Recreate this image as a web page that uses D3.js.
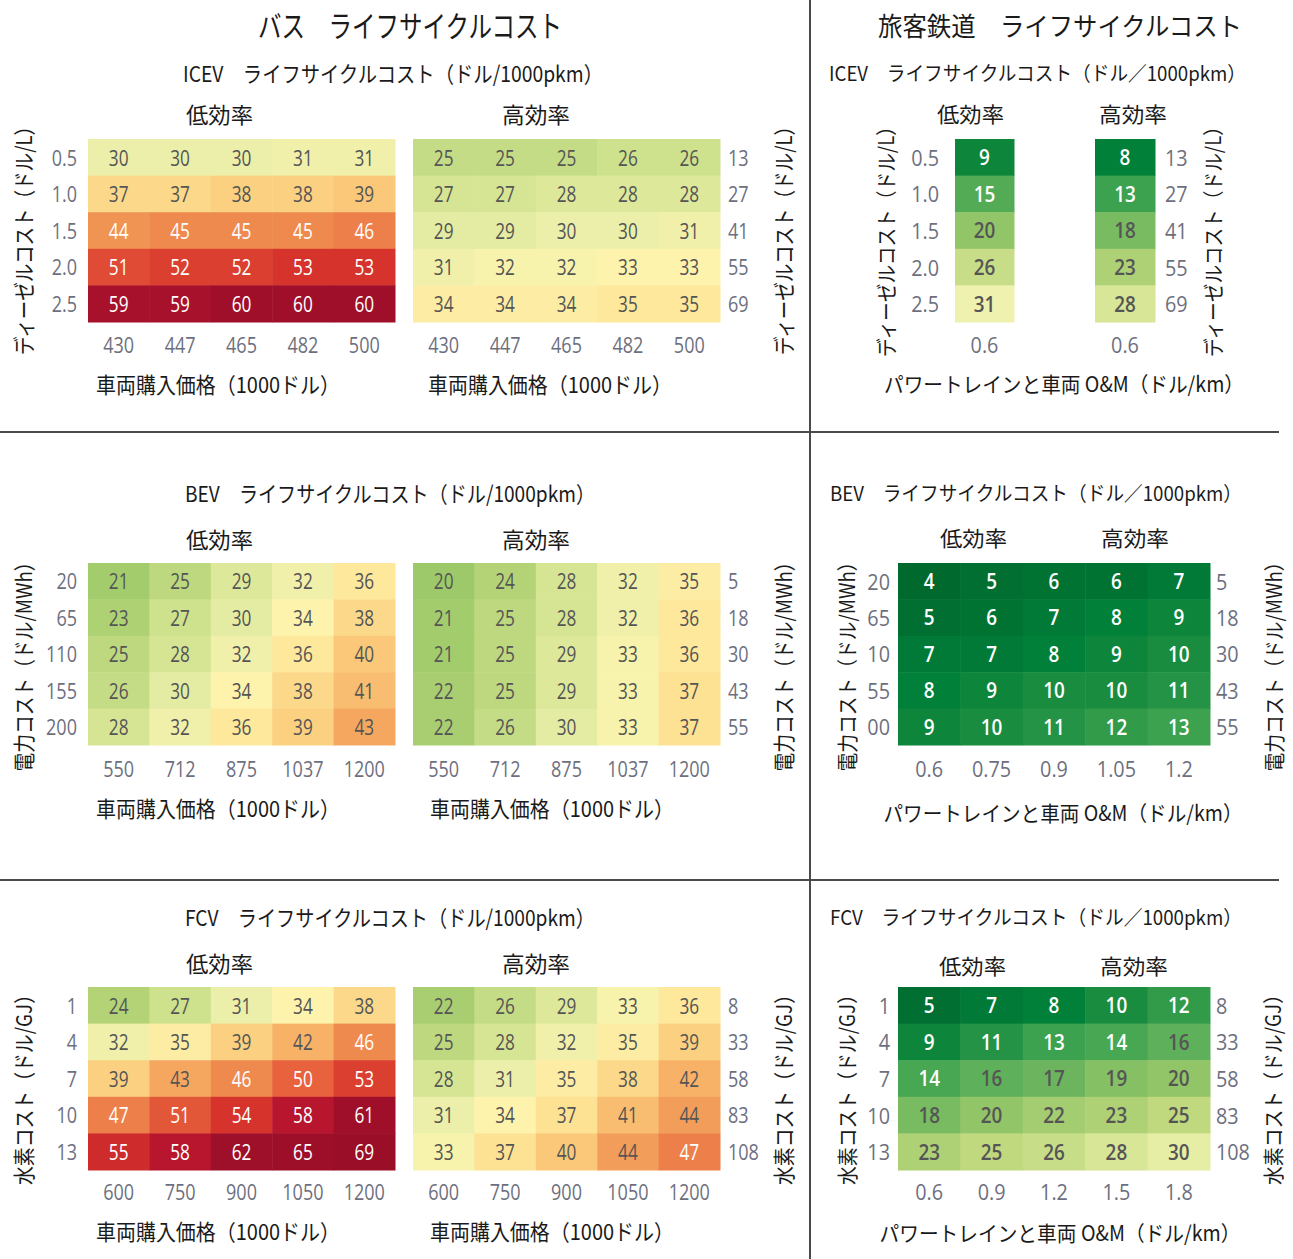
<!DOCTYPE html>
<html>
<head>
<meta charset="utf-8">
<script src="https://cdn.jsdelivr.net/npm/d3@7"></script>
<style>
  html, body { margin: 0; padding: 0; background: #fff; }
  svg { display: block; }
</style>
</head>
<body>
<svg id="chart" width="1293" height="1259"></svg>
<script>
// ---- data ----------------------------------------------------------------
// Bus ICEV: vehicle price (1000 USD) x diesel cost (USD/L)
const busIcevPrice = ["430", "447", "465", "482", "500"];
const dieselLow = ["0.5", "1.0", "1.5", "2.0", "2.5"];
const dieselHigh = ["13", "27", "41", "55", "69"];
const busIcevLow = [
  [30, 30, 30, 31, 31],
  [37, 37, 38, 38, 39],
  [44, 45, 45, 45, 46],
  [51, 52, 52, 53, 53],
  [59, 59, 60, 60, 60]
];
const busIcevHigh = [
  [25, 25, 25, 26, 26],
  [27, 27, 28, 28, 28],
  [29, 29, 30, 30, 31],
  [31, 32, 32, 33, 33],
  [34, 34, 34, 35, 35]
];

// Bus BEV: vehicle price x electricity cost (USD/MWh)
const busBevPrice = ["550", "712", "875", "1037", "1200"];
const powerLow = ["20", "65", "110", "155", "200"];
const powerHigh = ["5", "18", "30", "43", "55"];
const busBevLow = [
  [21, 25, 29, 32, 36],
  [23, 27, 30, 34, 38],
  [25, 28, 32, 36, 40],
  [26, 30, 34, 38, 41],
  [28, 32, 36, 39, 43]
];
const busBevHigh = [
  [20, 24, 28, 32, 35],
  [21, 25, 28, 32, 36],
  [21, 25, 29, 33, 36],
  [22, 25, 29, 33, 37],
  [22, 26, 30, 33, 37]
];

// Bus FCV: vehicle price x hydrogen cost (USD/GJ)
const busFcvPrice = ["600", "750", "900", "1050", "1200"];
const h2Low = ["1", "4", "7", "10", "13"];
const h2High = ["8", "33", "58", "83", "108"];
const busFcvLow = [
  [24, 27, 31, 34, 38],
  [32, 35, 39, 42, 46],
  [39, 43, 46, 50, 53],
  [47, 51, 54, 58, 61],
  [55, 58, 62, 65, 69]
];
const busFcvHigh = [
  [22, 26, 29, 33, 36],
  [25, 28, 32, 35, 39],
  [28, 31, 35, 38, 42],
  [31, 34, 37, 41, 44],
  [33, 37, 40, 44, 47]
];

// Passenger rail: powertrain & vehicle O&M (USD/km)
const railIcevOm = ["0.6"];
const railIcevLow = [[9], [15], [20], [26], [31]];
const railIcevHigh = [[8], [13], [18], [23], [28]];
const railBevOm = ["0.6", "0.75", "0.9", "1.05", "1.2"];
const railBev = [
  [4, 5, 6, 6, 7],
  [5, 6, 7, 8, 9],
  [7, 7, 8, 9, 10],
  [8, 9, 10, 10, 11],
  [9, 10, 11, 12, 13]
];
const railFcvOm = ["0.6", "0.9", "1.2", "1.5", "1.8"];
const railFcv = [
  [5, 7, 8, 10, 12],
  [9, 11, 13, 14, 16],
  [14, 16, 17, 19, 20],
  [18, 20, 22, 23, 25],
  [23, 25, 26, 28, 30]
];

// ---- colour scales -------------------------------------------------------
const busColor = d3.scaleLinear()
  .domain([20, 24, 28, 31, 34, 37, 40, 43, 46, 50, 54, 58, 61, 69])
  .range(["#9dc96a", "#b4d377", "#d6e594", "#ebefaa", "#fdf3ad", "#fde293",
          "#fac878", "#f5a760", "#ee8a4e", "#e8633d", "#d5332b", "#b8162e",
          "#9f0f2a", "#9a0e27"])
  .interpolate(d3.interpolateRgb)
  .clamp(true);

const railColor = d3.scaleLinear()
  .domain([4, 6, 8, 10, 13, 16, 20, 25, 31])
  .range(["#006a2e", "#007333", "#008038", "#1a8c40", "#3ca24f", "#5fb05a",
          "#92c568", "#c0d97f", "#eef2ae"])
  .interpolate(d3.interpolateRgb)
  .clamp(true);

const svg = d3.select("#chart");
const JP = "'Noto Sans CJK JP', 'Noto Sans', sans-serif";
const NUM = "'Open Sans', 'Noto Sans', sans-serif";
const TICK = "#6d6f7e";

// ---- frame lines ---------------------------------------------------------
const frame = svg.append("g").attr("stroke", "#4a4a4a").attr("stroke-width", 2);
frame.append("line").attr("x1", 810).attr("x2", 810).attr("y1", 0).attr("y2", 1259);
frame.append("line").attr("x1", 0).attr("x2", 1279).attr("y1", 432).attr("y2", 432);
frame.append("line").attr("x1", 0).attr("x2", 1279).attr("y1", 880).attr("y2", 880);

// ---- text helpers --------------------------------------------------------
function label(txt, x, y, size, len, opts = {}) {
  const t = svg.append("text")
    .attr("x", x).attr("y", y)
    .attr("text-anchor", "middle")
    .attr("dominant-baseline", "central")
    .attr("font-family", JP)
    .attr("font-size", size)
    .attr("fill", opts.fill || "#1a1a1a")
    .text(txt);
  if (len) t.attr("textLength", len).attr("lengthAdjust", "spacingAndGlyphs");
  if (opts.rotate) t.attr("transform", `rotate(-90,${x},${y})`);
  return t;
}

// horizontally squeeze a text element around its own anchor point
function squeeze(sel, sx) {
  sel.each(function () {
    const t = d3.select(this);
    const x0 = +t.attr("x") || 0;
    const y0 = +t.attr("y") || 0;
    t.attr("x", 0).attr("y", 0)
      .attr("transform", `translate(${x0},${y0}) scale(${sx},1)`);
  });
}

// ---- heatmap -------------------------------------------------------------
function heatmap(cfg) {
  const g = svg.append("g");
  const x = d3.scaleBand().domain(cfg.cols).range(cfg.xr).padding(0);
  const rowKeys = cfg.values.map((_, i) => i);
  const y = d3.scaleBand().domain(rowKeys).range(cfg.yr).padding(0);

  const cells = [];
  cfg.values.forEach((row, r) => row.forEach((v, c) => cells.push({ r, c, v })));

  g.selectAll("rect").data(cells).join("rect")
    .attr("x", d => x(cfg.cols[d.c]))
    .attr("y", d => y(d.r))
    .attr("width", x.bandwidth() + 0.5)
    .attr("height", y.bandwidth() + 0.5)
    .attr("fill", d => cfg.color(d.v + (cfg.shift || 0)));

  const vals = g.selectAll("text.val").data(cells).join("text")
    .attr("class", "val")
    .attr("x", d => x(cfg.cols[d.c]) + x.bandwidth() / 2)
    .attr("y", d => y(d.r) + y.bandwidth() / 2)
    .attr("text-anchor", "middle")
    .attr("dominant-baseline", "central")
    .attr("font-family", NUM)
    .attr("font-size", cfg.valSize || 21)
    .attr("font-weight", cfg.valWeight || 400)
    .attr("fill", d => cfg.light(d.v) ? "#ffffff" : "#555555")
    .text(d => d.v);
  squeeze(vals, cfg.valScale || 0.82);

  const tickScale = cfg.tickScale || 0.82;
  // axes built from band scales with category tick labels
  const styleAxis = sel => {
    sel.select(".domain").remove();
    sel.selectAll(".tick line").remove();
    sel.selectAll("text")
      .attr("font-family", NUM)
      .attr("font-size", cfg.tickSize || 22)
      .attr("fill", TICK);
  };

  if (cfg.leftTicks) {
    const yl = d3.scaleBand().domain(cfg.leftTicks).range(cfg.yr);
    const ga = svg.append("g")
      .attr("transform", `translate(${cfg.xr[0]},0)`)
      .call(d3.axisLeft(yl).tickSize(0).tickPadding(cfg.leftPad))
      .call(styleAxis);
    ga.selectAll("text").attr("dy", null).attr("dominant-baseline", "central");
    squeeze(ga.selectAll("text"), tickScale);
    if (cfg.leftClip) {
      const id = "clip" + Math.round(cfg.xr[0]) + "_" + Math.round(cfg.yr[0]);
      svg.append("clipPath").attr("id", id)
        .append("rect")
        .attr("x", cfg.leftClip - cfg.xr[0]).attr("y", cfg.yr[0] - 20)
        .attr("width", cfg.xr[0] - cfg.leftClip).attr("height", cfg.yr[1] - cfg.yr[0] + 40);
      ga.attr("clip-path", `url(#${id})`);
    }
  }
  if (cfg.rightTicks) {
    const yr = d3.scaleBand().domain(cfg.rightTicks).range(cfg.yr);
    const gr = svg.append("g")
      .attr("transform", `translate(${cfg.xr[1]},0)`)
      .call(d3.axisRight(yr).tickSize(0).tickPadding(cfg.rightPad))
      .call(styleAxis);
    gr.selectAll("text").attr("dy", null).attr("dominant-baseline", "central");
    squeeze(gr.selectAll("text"), tickScale);
  }
  const gb = svg.append("g")
    .attr("transform", `translate(0,${cfg.yr[1]})`)
    .call(d3.axisBottom(x).tickSize(0))
    .call(styleAxis);
  gb.selectAll("text")
    .attr("y", cfg.xTickY - cfg.yr[1])
    .attr("dy", null)
    .attr("dominant-baseline", "central");
  squeeze(gb.selectAll("text"), tickScale);
}

const busLight = shift => v => v + shift >= 44.5;
const railLight = v => v <= 15;

// ==== BUS =================================================================
label("バス　ライフサイクルコスト", 410, 24, 30, 304);

// ICEV
label("ICEV　ライフサイクルコスト（ドル/1000pkm）", 393, 72, 22, 420);
label("低効率", 219.5, 113, 22, 67);
label("高効率", 536, 113, 22, 68);
heatmap({ cols: busIcevPrice, values: busIcevLow, xr: [88, 395], yr: [139, 322],
  color: busColor, shift: 1, light: busLight(1),
  leftTicks: dieselLow, leftPad: 11, xTickY: 345 });
heatmap({ cols: busIcevPrice, values: busIcevHigh, xr: [413, 720], yr: [139, 322],
  color: busColor, shift: 1, light: busLight(1),
  rightTicks: dieselHigh, rightPad: 8, xTickY: 345 });
label("車両購入価格（1000ドル）", 218, 383, 22, 244);
label("車両購入価格（1000ドル）", 550, 383, 22, 244);
label("ディーゼルコスト（ドル/L）", 22, 236, 22, 238, { rotate: true });
label("ディーゼルコスト（ドル/L）", 782, 236, 22, 238, { rotate: true });

// BEV
label("BEV　ライフサイクルコスト（ドル/1000pkm）", 390, 492, 22, 410);
label("低効率", 219.5, 538, 22, 67);
label("高効率", 536, 538, 22, 68);
heatmap({ cols: busBevPrice, values: busBevLow, xr: [88, 395], yr: [563, 745],
  color: busColor, light: busLight(0),
  leftTicks: powerLow, leftPad: 11, xTickY: 769 });
heatmap({ cols: busBevPrice, values: busBevHigh, xr: [413, 720], yr: [563, 745],
  color: busColor, light: busLight(0),
  rightTicks: powerHigh, rightPad: 8, xTickY: 769 });
label("車両購入価格（1000ドル）", 218, 807, 22, 244);
label("車両購入価格（1000ドル）", 552, 807, 22, 244);
label("電力コスト（ドル/MWh）", 22, 662, 22, 219, { rotate: true });
label("電力コスト（ドル/MWh）", 782, 662, 22, 219, { rotate: true });

// FCV
label("FCV　ライフサイクルコスト（ドル/1000pkm）", 390, 916, 22, 410);
label("低効率", 219.5, 962, 22, 67);
label("高効率", 536, 962, 22, 68);
heatmap({ cols: busFcvPrice, values: busFcvLow, xr: [88, 395], yr: [987, 1170],
  color: busColor, light: busLight(0),
  leftTicks: h2Low, leftPad: 11, xTickY: 1192 });
heatmap({ cols: busFcvPrice, values: busFcvHigh, xr: [413, 720], yr: [987, 1170],
  color: busColor, light: busLight(0),
  rightTicks: h2High, rightPad: 8, xTickY: 1192 });
label("車両購入価格（1000ドル）", 218, 1230, 22, 244);
label("車両購入価格（1000ドル）", 552, 1230, 22, 244);
label("水素コスト（ドル/GJ）", 22, 1085, 22, 200, { rotate: true });
label("水素コスト（ドル/GJ）", 782, 1085, 22, 200, { rotate: true });

// ==== PASSENGER RAIL ======================================================
label("旅客鉄道　ライフサイクルコスト", 1060, 24, 26, 364);

const railOpts = { color: railColor, light: railLight, valWeight: 600,
  valScale: 0.9, tickScale: 0.9, tickSize: 22 };

// ICEV
label("ICEV　ライフサイクルコスト（ドル／1000pkm）", 1037.5, 72, 20, 417);
label("低効率", 970.5, 113, 21, 67);
label("高効率", 1133, 113, 21, 68);
heatmap({ ...railOpts, cols: railIcevOm, values: railIcevLow, xr: [955, 1014], yr: [139, 322],
  leftTicks: dieselLow, leftPad: 16, xTickY: 345 });
heatmap({ ...railOpts, cols: railIcevOm, values: railIcevHigh, xr: [1095, 1155], yr: [139, 322],
  rightTicks: dieselHigh, rightPad: 10, xTickY: 345 });
label("パワートレインと車両 O&M（ドル/km）", 1064, 383, 21, 360);
label("ディーゼルコスト（ドル/L）", 885, 237, 21, 240, { rotate: true });
label("ディーゼルコスト（ドル/L）", 1212, 237, 21, 240, { rotate: true });

// BEV
label("BEV　ライフサイクルコスト（ドル／1000pkm）", 1036, 492, 20, 412);
label("低効率", 973.5, 537, 21, 67);
label("高効率", 1135, 537, 21, 68);
heatmap({ ...railOpts, cols: railBevOm, values: railBev, xr: [898, 1210], yr: [563, 745],
  leftTicks: powerLow, leftPad: 8, leftClip: 867,
  rightTicks: powerHigh, rightPad: 6, xTickY: 769 });
label("パワートレインと車両 O&M（ドル/km）", 1063, 812, 21, 359);
label("電力コスト（ドル/MWh）", 846, 662, 21, 219, { rotate: true });
label("電力コスト（ドル/MWh）", 1273, 662, 21, 219, { rotate: true });

// FCV
label("FCV　ライフサイクルコスト（ドル／1000pkm）", 1036, 916, 20, 412);
label("低効率", 972.5, 965, 21, 67);
label("高効率", 1134, 965, 21, 68);
heatmap({ ...railOpts, cols: railFcvOm, values: railFcv, xr: [898, 1210], yr: [987, 1170],
  leftTicks: h2Low, leftPad: 8,
  rightTicks: h2High, rightPad: 6, xTickY: 1192 });
label("パワートレインと車両 O&M（ドル/km）", 1060, 1232, 21, 361);
label("水素コスト（ドル/GJ）", 846, 1085, 21, 200, { rotate: true });
label("水素コスト（ドル/GJ）", 1272, 1085, 21, 200, { rotate: true });
</script>
</body>
</html>
